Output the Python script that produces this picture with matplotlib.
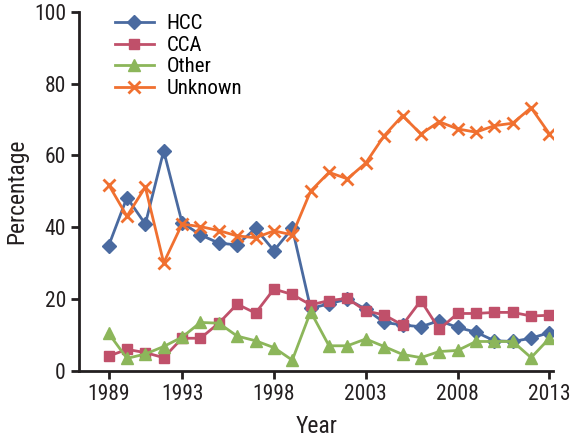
import matplotlib
matplotlib.use("Agg")
import matplotlib.pyplot as plt

years = list(range(1989, 2014))
hcc = [34.8, 48.3, 40.9, 61.3, 41.3, 37.9, 35.6, 35.1, 39.7, 33.5, 39.7,
       17.4, 18.7, 20.0, 17.2, 13.5, 12.8, 12.3, 14.0, 12.1, 10.8, 8.4, 8.2, 9.1, 10.7]
cca = [4.1, 6.0, 5.1, 3.7, 9.1, 9.1, 13.3, 18.6, 16.1, 22.8, 21.3,
       18.4, 19.6, 20.2, 16.7, 15.6, 12.8, 19.6, 11.6, 16.0, 16.0, 16.3, 16.3, 15.3, 15.5]
other = [10.5, 3.5, 4.7, 6.8, 9.4, 13.5, 13.3, 9.7, 8.4, 6.5, 3.0,
         16.5, 7.0, 7.0, 8.9, 6.8, 4.6, 3.7, 5.4, 5.7, 8.2, 8.2, 8.2, 3.7, 9.1]
unknown = [51.9, 43.1, 51.2, 30.1, 40.9, 40.2, 39.1, 37.6, 37.1, 39.0, 37.9,
           50.1, 55.3, 53.5, 57.9, 65.5, 71.1, 66.0, 69.4, 67.4, 66.5, 68.3, 69.0, 73.3, 66.0]
x_ticks = [1989, 1993, 1998, 2003, 2008, 2013]
y_ticks = [0, 20, 40, 60, 80, 100]

plt.rcParams['font.family'] = ['Roboto Condensed', 'DejaVu Sans']

fig = plt.figure(figsize=(5.78, 4.4), dpi=100)
ax = fig.add_axes([0.137, 0.157, 0.82, 0.816])

ax.plot(years, hcc, color='#4a6aa0', marker='D', markersize=7, lw=2, label='HCC')
ax.plot(years, cca, color='#c0506a', marker='s', markersize=7, lw=2, label='CCA')
ax.plot(years, other, color='#8cb65a', marker='^', markersize=8, lw=2, label='Other')
ax.plot(years, unknown, color='#f07030', marker='x', markersize=9, mew=2, lw=2, label='Unknown')

ax.set_xlim(1987.4, 2013.2)
ax.set_ylim(0, 100)
ax.set_xticks(x_ticks)
ax.set_yticks(y_ticks)
for s in ['top', 'right']:
    ax.spines[s].set_visible(False)
for s in ['left', 'bottom']:
    ax.spines[s].set_linewidth(2)
    ax.spines[s].set_color('#231f20')
ax.tick_params(direction='out', length=6, width=2, colors='#231f20', labelsize=15.5)
ax.set_xlabel('Year', fontsize=17, color='#231f20', labelpad=7)
ax.set_ylabel('Percentage', fontsize=17, color='#231f20', labelpad=4)

leg = ax.legend(loc='upper left', bbox_to_anchor=(0.035, 1.045), frameon=False,
                fontsize=15, handlelength=1.9, labelspacing=0.12, handletextpad=0.6)

fig.savefig('out.png', dpi=100)
